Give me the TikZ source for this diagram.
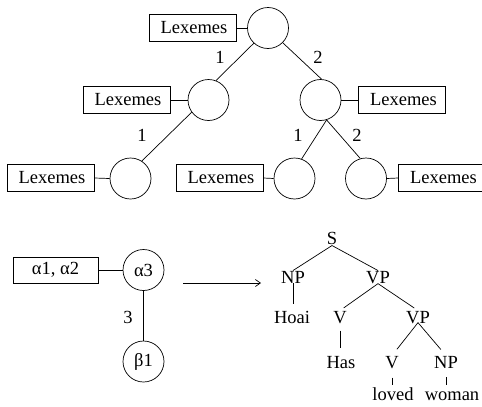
\documentclass[tikz,border=0pt]{standalone}
\usepackage{fontspec}
\setmainfont{Liberation Serif}
\usetikzlibrary{arrows.meta}
\begin{document}
\begin{tikzpicture}[x=1pt,y=-1pt,line width=0.7pt,
  font=\fontsize{18.5}{20}\selectfont,
  circ/.style={draw,circle,minimum size=41pt,inner sep=0pt},
  lexbox/.style={draw,rectangle,minimum width=87pt,minimum height=27pt,inner sep=0pt},
  lbl/.style={inner sep=0pt},
  tw/.style={inner sep=0pt,anchor=base}]
\useasboundingbox (0,0) rectangle (482,407);
% upper tree
\node[circ] (c0) at (268,28) {};
\node[circ] (c1) at (208.5,100) {};
\node[circ] (c2) at (320.5,100) {};
\node[circ] (c3) at (130.5,178.5) {};
\node[circ] (c4) at (294.5,178.5) {};
\node[circ] (c5) at (366,178.5) {};
\node[lexbox] (b0) at (192.5,28) {\hspace{3pt}Lexemes};
\node[lexbox] (b1) at (126.5,100) {\hspace{3pt}Lexemes};
\node[lexbox] (b2) at (402,100) {\hspace{3pt}Lexemes};
\node[lexbox] (b3) at (50.5,178) {\hspace{3pt}Lexemes};
\node[lexbox] (b4) at (219.5,178) {\hspace{3pt}Lexemes};
\node[lexbox] (b5) at (442,178) {\hspace{3pt}Lexemes};
\draw (b0.east) -- (c0.west);
\draw (b1.east) -- (c1.west);
\draw (c2.east) -- (b2.west);
\draw (b3.east) -- (c3.west);
\draw (b4.east) -- (c4.west);
\draw (c5.east) -- (b5.west);
\draw (c0.227) -- (c1.69);
\draw (c0.315) -- (c2.87);
\draw (c1.216) -- (c3.57);
\draw (c2.287) -- (c4.70);
\draw (c2.287) -- (c5.106);
\node[lbl] (l01) at (220,57) {1};
\node[lbl] (l02) at (318,57) {2};
\node[lbl] (l13) at (142,135) {1};
\node[lbl] (l24) at (298,135) {1};
\node[lbl] (l25) at (357,135) {2};
% lower left
\node[draw,rectangle,minimum width=85pt,minimum height=26pt,inner sep=0pt] (ab) at (55.5,270) {α1, α2};
\node[circ] (a3) at (143.5,270) {α3};
\node[circ] (b1n) at (143.5,361.5) {β1};
\draw (ab.east) -- (a3.west);
\draw (a3.south) -- (b1n.north);
\node[lbl] (l3) at (128,317) {3};
\coordinate (arrS) at (183,283);
\coordinate (arrE) at (261,283);
\draw[-{Straight Barb[length=5pt,width=7pt]}] (arrS) -- (arrE);
% parse tree
\node[tw] (S) at (332,244) {S};
\node[tw] (NP) at (293,283) {NP};
\node[tw] (VP) at (378,283) {VP};
\node[tw] (Hoai) at (292,323) {Hoai};
\node[tw] (V) at (340,323) {V};
\node[tw] (VPb) at (418,323) {VP};
\node[tw] (Has) at (341,368) {Has};
\node[tw] (Vb) at (392,368) {V};
\node[tw] (NPb) at (446,368) {NP};
\node[tw] (loved) at (393,400) {loved};
\node[tw] (woman) at (452,400) {woman};
\draw ([yshift=-1pt]S.south) -- (NP.north);
\draw ([yshift=-1pt]S.south) -- (VP.north);
\draw[shorten >=6pt] (NP.south) -- (NP.south |- Hoai.north);
\draw[shorten >=4.5pt] (VP.south) -- (V.north);
\draw[shorten >=4.5pt] (VP.south) -- (VPb.north);
\draw[shorten >=8pt] ([yshift=1pt]VPb.south) -- (Vb.north);
\draw[shorten >=8pt] ([yshift=1pt]VPb.south) -- (NPb.north);
\draw[shorten <=7pt,shorten >=8pt] (V.south) -- (V.south |- Has.north);
\draw[shorten <=9pt,shorten >=1.5pt] (Vb.south) -- (Vb.south |- loved.north);
\draw[shorten <=9pt,shorten >=1.5pt] (NPb.south) -- (NPb.south |- loved.north);
\end{tikzpicture}
\end{document}
